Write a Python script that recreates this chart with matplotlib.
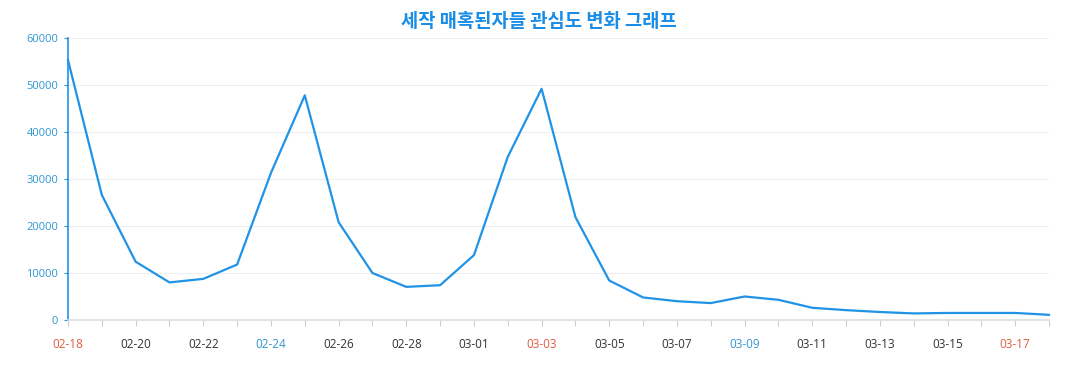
import matplotlib
matplotlib.use("Agg")
import matplotlib.pyplot as plt

# daily interest values, 2024-02-18 .. 2024-03-18
dates = ["02-18", "02-19", "02-20", "02-21", "02-22", "02-23", "02-24", "02-25",
         "02-26", "02-27", "02-28", "02-29", "03-01", "03-02", "03-03", "03-04",
         "03-05", "03-06", "03-07", "03-08", "03-09", "03-10", "03-11", "03-12",
         "03-13", "03-14", "03-15", "03-16", "03-17", "03-18"]
values = [55300, 26600, 12400, 8000, 8750, 11800, 31300, 47800,
          20800, 10000, 7050, 7400, 13800, 34700, 49200, 21900,
          8400, 4800, 4000, 3600, 5000, 4300, 2600, 2100,
          1700, 1400, 1500, 1500, 1500, 1100]
sundays = ["02-18", "03-03", "03-17"]
saturdays = ["02-24", "03-09"]
yticks = [0, 10000, 20000, 30000, 40000, 50000, 60000]

title = "세작 매혹된자들 관심도 변화 그래프"
line_color = "#2193e6"
tick_blue = "#2f96d3"
red = "#e05a3f"

plt.rcParams['font.family'] = ['Open Sans', 'DejaVu Sans']

fig = plt.figure(figsize=(10.77, 3.90), dpi=100)
ax = fig.add_axes([68 / 1077, 70 / 390, (1049 - 68) / 1077, (320 - 38) / 390])

x = list(range(len(dates)))
ax.plot(x, values, color=line_color, linewidth=1.6, clip_on=False, zorder=3)

ax.set_xlim(0, len(dates) - 1)
ax.set_ylim(0, 60000)

ax.set_yticks(yticks)
ax.set_yticklabels([str(v) for v in yticks], color=tick_blue, fontsize=8)
ax.yaxis.grid(True, color="#eeeeee", linewidth=0.8)
ax.set_axisbelow(True)
ax.tick_params(axis='y', length=3, color=tick_blue, pad=4)

ax.set_xticks(x)
ax.set_xticklabels([d if i % 2 == 0 else "" for i, d in enumerate(dates)], fontsize=8.5)
for lbl, d in zip(ax.get_xticklabels(), dates):
    if d in sundays:
        lbl.set_color(red)
    elif d in saturdays:
        lbl.set_color(tick_blue)
    else:
        lbl.set_color("#333333")
ax.tick_params(axis='x', length=4, color="#cccccc", pad=9)

for s in ["top", "right"]:
    ax.spines[s].set_visible(False)
ax.spines["left"].set_color(line_color)
ax.spines["left"].set_linewidth(1.2)
ax.spines["bottom"].set_color("#dddddd")
ax.spines["bottom"].set_linewidth(1.2)

fig.text(0.5, 0.945, title, ha="center", va="center", fontsize=13.5,
         fontweight="bold", color="#1a8de6",
         family=['Noto Sans CJK KR', 'DejaVu Sans'])

fig.savefig("out.png", dpi=100)
